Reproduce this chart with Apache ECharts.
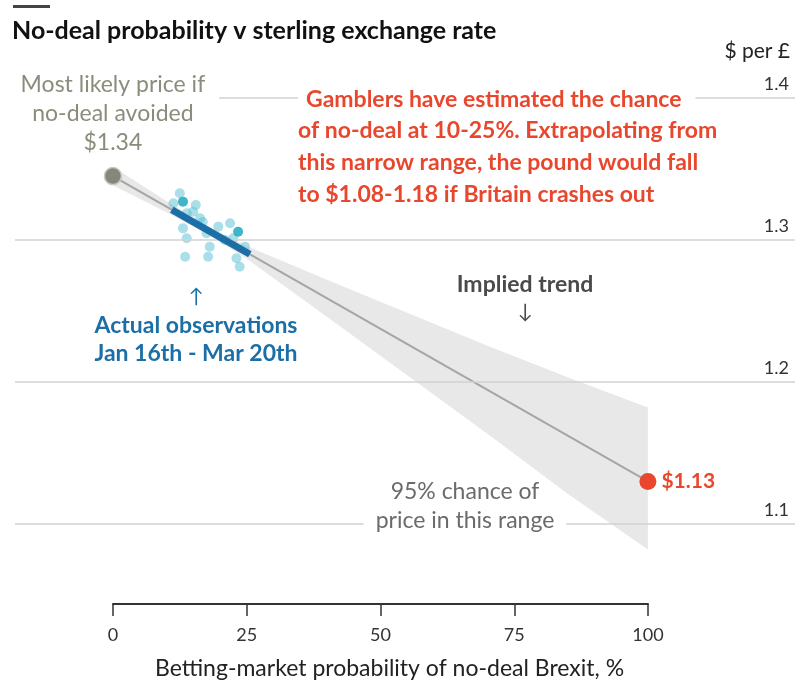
<!DOCTYPE html>
<html>
<head>
<meta charset="utf-8">
<script src="https://cdn.jsdelivr.net/npm/echarts@6/dist/echarts.min.js"></script>
<style>
  html, body { margin: 0; padding: 0; background: #fff; }
  #cc { width: 795px; height: 681px; }
</style>
</head>
<body>
<div id="cc"></div>
<script>
var FONT = 'Lato';

// price gridlines ($ per £)
var gridValues = [1.1, 1.2, 1.3, 1.4];

// implied trend, no-deal probability % -> $ per £
var trendX = [0, 100];
var trendY = [1.345, 1.13];

// fitted segment over the observed range
var fitX = [11, 25.6];
var fitY = [1.3213, 1.29];

// 95% band
var bandX = [0, 10, 18, 25, 40, 55, 70, 85, 100];
var bandUpper = [1.3515, 1.3275, 1.3093, 1.2958, 1.272, 1.2488, 1.2255, 1.2033, 1.182];
var bandLower = [1.3385, 1.3195, 1.3033, 1.2868, 1.246, 1.2048, 1.1635, 1.1213, 1.082];

// daily observations Jan 16th - Mar 20th
var obsX = [12.5, 11.3, 15.0, 13.8, 13.1, 13.8, 13.5, 16.3, 17.5, 18.1, 17.8, 19.7, 21.9, 22.5, 24.7, 23.1, 23.7, 15.5, 20.9, 16.8];
var obsY = [1.3329, 1.3258, 1.3199, 1.3188, 1.3082, 1.3012, 1.2882, 1.3153, 1.3047, 1.2953, 1.2882, 1.3094, 1.3118, 1.3012, 1.2953, 1.2871, 1.2812, 1.3246, 1.3, 1.3127];
var obsDarkX = [13.1, 23.4];
var obsDarkY = [1.327, 1.3058];

var chart = echarts.init(document.getElementById('cc'));

function pairs(xs, ys) {
    return xs.map(function (x, i) { return [x, ys[i]]; });
}

// plain text annotation in pixel space
function note(x, y, text, color, size, weight, align, extra) {
    var style = {
        text: text, fill: color, fontSize: size, fontWeight: weight || 'normal',
        fontFamily: FONT, align: align || 'left', verticalAlign: 'middle'
    };
    if (extra) for (var k in extra) style[k] = extra[k];
    return { type: 'text', z: 100, x: x, y: y, style: style };
}

var RED = '#e8472e';
var BLUE = '#1b6fa6';

var option = {
    animation: false,
    textStyle: { fontFamily: FONT },
    grid: [
        { left: 15, right: 0, top: 27, bottom: 86 },
        { left: 113, width: 535, top: 500, bottom: 77 }
    ],
    xAxis: [
        { gridIndex: 0, type: 'value', min: -18.3, max: 127.5, show: false },
        {
            gridIndex: 1, type: 'value', min: 0, max: 100, interval: 25,
            axisLine: { lineStyle: { color: '#333', width: 2 } },
            axisTick: { inside: false, length: 12, lineStyle: { color: '#333', width: 1.5 } },
            splitLine: { show: false },
            axisLabel: { margin: 22, color: '#333', fontSize: 18, fontFamily: FONT },
            name: 'Betting-market probability of no-deal Brexit, %',
            nameLocation: 'middle',
            nameGap: 53,
            nameTextStyle: { color: '#222', fontSize: 23, fontFamily: FONT, padding: [0, 0, 0, 18] }
        }
    ],
    yAxis: [
        { gridIndex: 0, type: 'value', min: 1.05, max: 1.45, show: false },
        { gridIndex: 1, type: 'value', show: false }
    ],
    graphic: [
        { type: 'rect', z: 100, shape: { x: 13, y: 5, width: 37, height: 3 }, style: { fill: '#444' } },
        note(12, 31, 'No-deal probability v sterling exchange rate', '#111', 25, 'bold'),
        note(790, 51, '$ per £', '#222', 21, 'normal', 'right'),

        note(298, 100, 'Gamblers have estimated the chance', RED, 23, 'bold', 'left', { backgroundColor: '#fff', padding: [2, 14, 2, 8] }),
        note(298, 131, 'of no-deal at 10-25%. Extrapolating from', RED, 23, 'bold'),
        note(298, 163, 'this narrow range, the pound would fall', RED, 23, 'bold'),
        note(298, 195, 'to $1.08-1.18 if Britain crashes out', RED, 23, 'bold'),

        note(525, 285, 'Implied trend', '#4a4a4a', 23, 'bold', 'center'),
        note(525, 312, '↓', '#4a4a4a', 20, 'normal', 'center'),

        note(196, 297, '↑', BLUE, 20, 'normal', 'center'),
        note(196, 326, 'Actual observations', BLUE, 23, 'bold', 'center'),
        note(196, 354, 'Jan 16th - Mar 20th', BLUE, 23, 'bold', 'center'),

        note(465, 492, '95% chance of', '#6b6b6b', 23, 'normal', 'center'),
        note(465, 521, 'price in this range', '#6b6b6b', 23, 'normal', 'center', { backgroundColor: '#fff', padding: [2, 12] })
    ],
    series: [
        {
            name: 'band',
            type: 'custom',
            xAxisIndex: 0, yAxisIndex: 0,
            z: 1,
            silent: true,
            data: [[0, 1.3]],
            renderItem: function (params, api) {
                var pts = [];
                for (var i = 0; i < bandX.length; i++) pts.push(api.coord([bandX[i], bandUpper[i]]));
                for (var j = bandX.length - 1; j >= 0; j--) pts.push(api.coord([bandX[j], bandLower[j]]));
                return { type: 'polygon', shape: { points: pts }, style: { fill: '#e8e8e9' } };
            }
        },
        {
            name: 'gridlines',
            type: 'line',
            xAxisIndex: 0, yAxisIndex: 0,
            z: 2,
            data: [],
            markLine: {
                silent: true,
                symbol: 'none',
                lineStyle: { color: '#d2d2d2', width: 1.5, type: 'solid' },
                label: { position: 'insideEndTop', formatter: '{c}', color: '#333', fontSize: 18, fontFamily: FONT, distance: [6, 5] },
                data: gridValues.map(function (v) { return { yAxis: v }; })
            }
        },
        {
            name: 'Implied trend',
            type: 'line',
            xAxisIndex: 0, yAxisIndex: 0,
            z: 3,
            symbol: 'none',
            lineStyle: { color: '#a5a5a5', width: 2 },
            data: pairs(trendX, trendY)
        },
        {
            name: 'observations',
            type: 'scatter',
            xAxisIndex: 0, yAxisIndex: 0,
            z: 4,
            symbolSize: 10,
            itemStyle: { color: 'rgba(85,192,214,0.5)', opacity: 1 },
            data: pairs(obsX, obsY)
        },
        {
            name: 'observations dark',
            type: 'scatter',
            xAxisIndex: 0, yAxisIndex: 0,
            z: 4,
            symbolSize: 10,
            itemStyle: { color: 'rgba(28,168,192,0.85)', opacity: 1 },
            data: pairs(obsDarkX, obsDarkY)
        },
        {
            name: 'fit',
            type: 'line',
            xAxisIndex: 0, yAxisIndex: 0,
            z: 5,
            symbol: 'none',
            lineStyle: { color: '#1d6ea6', width: 7 },
            data: pairs(fitX, fitY)
        },
        {
            name: 'no deal avoided',
            type: 'scatter',
            xAxisIndex: 0, yAxisIndex: 0,
            z: 6,
            symbolSize: 17,
            itemStyle: { color: '#86867a', borderColor: '#c8c8bc', borderWidth: 1.5, opacity: 1 },
            label: {
                show: true,
                position: 'top',
                distance: 10,
                formatter: 'Most likely price if\nno-deal avoided\n$1.34',
                color: '#8c8c7c',
                fontSize: 23,
                lineHeight: 29,
                fontFamily: FONT,
                align: 'center',
                backgroundColor: '#fff',
                padding: [0, 14, 0, 14]
            },
            data: [[trendX[0], trendY[0]]]
        },
        {
            name: 'no deal',
            type: 'scatter',
            xAxisIndex: 0, yAxisIndex: 0,
            z: 6,
            symbolSize: 17,
            itemStyle: { color: RED, opacity: 1 },
            label: {
                show: true,
                position: 'right',
                distance: 5,
                formatter: '$1.13',
                color: RED,
                fontSize: 21,
                fontWeight: 'bold',
                fontFamily: FONT
            },
            data: [[trendX[1], trendY[1]]]
        }
    ]
};

chart.setOption(option);
</script>
</body>
</html>
